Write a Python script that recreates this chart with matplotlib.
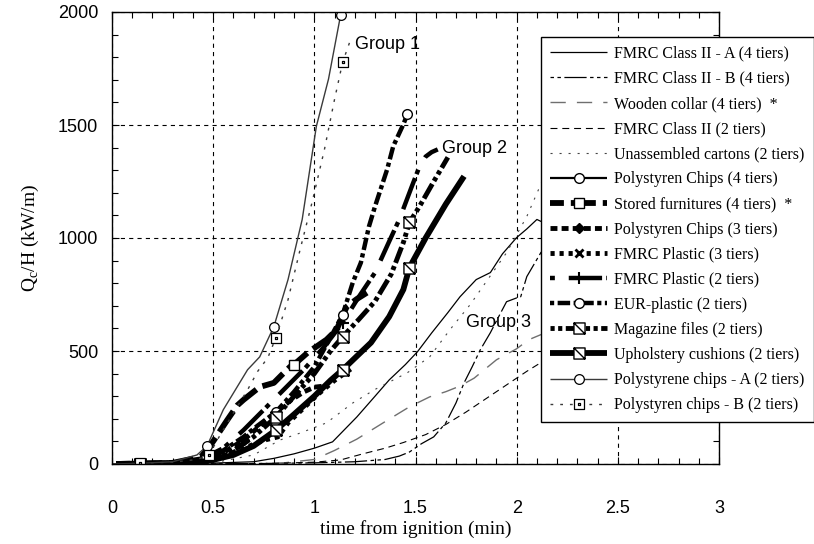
import numpy as np
import matplotlib
matplotlib.use("Agg")
import matplotlib.pyplot as plt
from matplotlib.path import Path
from matplotlib.ticker import MultipleLocator, FuncFormatter

plt.rcParams['lines.scale_dashes'] = False

# ---------------- data (time in min, Qc/H in kW/m) ----------------
fmrc2a_4_t = [0.00, 0.30, 0.50, 0.70, 0.80, 0.90, 1.00, 1.09, 1.21, 1.30, 1.37, 1.45, 1.51, 1.58, 1.66, 1.72, 1.80, 1.87, 1.93, 2.00, 2.05, 2.10, 2.14]
fmrc2a_4_q = [0, 2, 4, 10, 25, 45, 70, 98, 208, 300, 372, 440, 497, 580, 670, 740, 816, 847, 930, 1002, 1040, 1082, 1065]

fmrc2b_4_t = [0.30, 0.70, 1.00, 1.20, 1.35, 1.42, 1.47, 1.53, 1.59, 1.65, 1.70, 1.74, 1.78, 1.82, 1.87, 1.91, 1.95, 2.00, 2.02, 2.05, 2.12, 2.18]
fmrc2b_4_q = [0, 2, 5, 10, 20, 35, 53, 90, 120, 182, 270, 359, 430, 505, 581, 650, 718, 735, 740, 829, 936, 1000]

wood_4_t = [0.80, 1.00, 1.10, 1.21, 1.34, 1.47, 1.57, 1.65, 1.72, 1.79, 1.90, 2.00, 2.06, 2.14]
wood_4_q = [0, 20, 60, 110, 182, 253, 297, 320, 345, 380, 461, 510, 550, 580]

fmrc2_2_t = [0.50, 0.80, 1.00, 1.13, 1.24, 1.35, 1.44, 1.55, 1.65, 1.75, 1.85, 1.95, 2.05, 2.14]
fmrc2_2_q = [0, 3, 8, 18, 45, 70, 95, 130, 175, 230, 290, 350, 410, 460]

carton_2_t = [0.50, 0.70, 0.83, 0.93, 1.06, 1.19, 1.30, 1.46, 1.57, 1.67, 1.77, 1.86, 1.95, 2.05, 2.14]
carton_2_q = [5, 40, 106, 137, 182, 270, 330, 404, 474, 594, 705, 820, 935, 1095, 1280]

pschips_4_t = [0.02, 0.14, 0.30, 0.47]
pschips_4_q = [0, 2, 6, 15]

stored_4_t = [0.02, 0.14, 0.30, 0.44, 0.50, 0.57, 0.62, 0.65, 0.73, 0.80, 0.84, 0.88, 0.90, 0.97, 1.06, 1.11, 1.16, 1.21, 1.26]
stored_4_q = [0, 2, 5, 31, 100, 195, 260, 284, 341, 359, 395, 430, 440, 495, 550, 594, 696, 730, 758]

pschips_3_t = [0.02, 0.14, 0.30, 0.45, 0.55, 0.65, 0.72, 0.80, 0.88, 0.95, 1.00, 1.05]
pschips_3_q = [0, 2, 4, 12, 50, 106, 160, 220, 280, 320, 340, 345]

fmrcpl_3_t = [0.02, 0.14, 0.30, 0.47, 0.58, 0.68, 0.75, 0.82, 0.87, 0.95, 1.02, 1.10, 1.18]
fmrcpl_3_q = [0, 2, 4, 15, 45, 80, 105, 120, 182, 250, 310, 370, 420]

fmrcpl_2_t = [0.02, 0.14, 0.30, 0.45, 0.55, 0.65, 0.75, 0.85, 0.95, 1.05, 1.14, 1.22, 1.30, 1.37, 1.42, 1.48, 1.52, 1.55, 1.58, 1.61]
fmrcpl_2_q = [0, 2, 5, 25, 70, 150, 240, 330, 420, 520, 625, 740, 847, 985, 1082, 1224, 1317, 1360, 1380, 1392]

eur_2_t = [0.02, 0.14, 0.30, 0.47, 0.55, 0.65, 0.72, 0.81, 0.90, 1.00, 1.08, 1.14, 1.19, 1.23, 1.27, 1.30, 1.36, 1.39, 1.44, 1.46]
eur_2_q = [0, 2, 5, 20, 60, 120, 170, 230, 320, 430, 560, 661, 803, 891, 1051, 1140, 1304, 1406, 1503, 1548]

magazine_2_t = [0.02, 0.14, 0.30, 0.47, 0.60, 0.70, 0.81, 0.90, 1.00, 1.08, 1.14, 1.22, 1.30, 1.38, 1.44, 1.47, 1.52, 1.59, 1.66]
magazine_2_q = [0, 2, 5, 20, 60, 120, 208, 300, 400, 500, 563, 640, 720, 840, 980, 1069, 1140, 1250, 1357]

uphol_2_t = [0.02, 0.14, 0.30, 0.47, 0.60, 0.70, 0.81, 0.90, 1.00, 1.08, 1.14, 1.28, 1.37, 1.44, 1.47, 1.55, 1.65, 1.74]
uphol_2_q = [0, 2, 4, 12, 40, 80, 150, 220, 300, 370, 417, 537, 652, 772, 869, 1000, 1150, 1273]

pschipsA_2_t = [0.00, 0.14, 0.30, 0.42, 0.47, 0.55, 0.67, 0.73, 0.80, 0.87, 0.94, 1.01, 1.07, 1.13]
pschipsA_2_q = [0, 3, 10, 40, 80, 240, 417, 474, 608, 816, 1082, 1494, 1703, 1987]

pschipsB_2_t = [0.00, 0.14, 0.30, 0.42, 0.48, 0.52, 0.60, 0.67, 0.72, 0.77, 0.81, 0.87, 0.93, 0.99, 1.05, 1.10, 1.14, 1.18]
pschipsB_2_q = [0, 3, 8, 20, 40, 106, 226, 328, 410, 470, 559, 727, 950, 1162, 1392, 1614, 1778, 1880]

labels = ["FMRC Class II - A (4 tiers)", "FMRC Class II - B (4 tiers)", "Wooden collar (4 tiers)  *",
          "FMRC Class II (2 tiers)", "Unassembled cartons (2 tiers)", "Polystyren Chips (4 tiers)",
          "Stored furnitures (4 tiers)  *", "Polystyren Chips (3 tiers)", "FMRC Plastic (3 tiers)",
          "FMRC Plastic (2 tiers)", "EUR-plastic (2 tiers)", "Magazine files (2 tiers)",
          "Upholstery cushions (2 tiers)", "Polystyrene chips - A (2 tiers)", "Polystyren chips - B (2 tiers)"]

group_labels = ["Group 1", "Group 2", "Group 3"]
group_pos = [(1.20, 1858), (1.63, 1395), (1.75, 625)]

# ---------------- custom markers ----------------
sq_slash = Path([(-1, -1), (1, -1), (1, 1), (-1, 1), (-1, -1), (-1, 1), (1, -1)],
                [Path.MOVETO, Path.LINETO, Path.LINETO, Path.LINETO, Path.CLOSEPOLY, Path.MOVETO, Path.LINETO])
sq_dot = Path([(-1, -1), (1, -1), (1, 1), (-1, 1), (-1, -1),
               (-0.15, -0.15), (0.15, -0.15), (0.15, 0.15), (-0.15, 0.15), (-0.15, -0.15)],
              [Path.MOVETO, Path.LINETO, Path.LINETO, Path.LINETO, Path.CLOSEPOLY,
               Path.MOVETO, Path.LINETO, Path.LINETO, Path.LINETO, Path.CLOSEPOLY])


def marks(t, times):
    t = np.asarray(t)
    return [int(np.argmin(np.abs(t - m))) for m in times]


series = [
    (fmrc2a_4_t, fmrc2a_4_q, dict(color='black', lw=0.9, ls='-'), None, []),
    (fmrc2b_4_t, fmrc2b_4_q, dict(color='black', lw=0.9, ls=(0, (2.5, 2.5, 2.5, 2.5, 16, 2.5))), None, []),
    (wood_4_t, wood_4_q, dict(color='#6f6f6f', lw=1.0, ls=(0, (11, 8))), None, []),
    (fmrc2_2_t, fmrc2_2_q, dict(color='black', lw=0.8, ls=(0, (5, 3.5))), None, []),
    (carton_2_t, carton_2_q, dict(color='#444444', lw=0.8, ls=(0, (1.5, 5))), None, []),
    (pschips_4_t, pschips_4_q, dict(color='black', lw=1.6, ls='-'), dict(marker='o', ms=7, mfc='white', mec='black', mew=1), [0.47]),
    (stored_4_t, stored_4_q, dict(color='black', lw=4.2, ls=(8, (18, 5))), dict(marker='s', ms=7.5, mfc='white', mec='black', mew=1), [0.14, 0.90]),
    (pschips_3_t, pschips_3_q, dict(color='black', lw=3.5, ls=(0, (5, 3))), dict(marker='D', ms=5.5, mfc='black', mec='black', mew=1), [0.65]),
    (fmrcpl_3_t, fmrcpl_3_q, dict(color='black', lw=3.5, ls=(0, (3, 3.5))), dict(marker='x', ms=6, mfc='black', mec='black', mew=2), [0.47]),
    (fmrcpl_2_t, fmrcpl_2_q, dict(color='black', lw=3.2, ls=(0, (3.5, 10, 24, 3))), dict(marker='+', ms=9, mec='black', mew=1.5), [1.14]),
    (eur_2_t, eur_2_q, dict(color='black', lw=3.2, ls=(0, (3, 2.5, 9, 2.5))), dict(marker='o', ms=7, mfc='white', mec='black', mew=1), [0.14, 0.47, 0.81, 1.14, 1.46]),
    (magazine_2_t, magazine_2_q, dict(color='black', lw=3.5, ls=(0, (3, 2.5, 3, 2.5, 12, 2.5))), dict(marker=sq_slash, ms=8, mfc='white', mec='black', mew=1), [0.14, 0.47, 0.81, 1.14, 1.47]),
    (uphol_2_t, uphol_2_q, dict(color='black', lw=4.2, ls='-'), dict(marker=sq_slash, ms=8, mfc='white', mec='black', mew=1), [0.14, 0.81, 1.14, 1.47]),
    (pschipsA_2_t, pschipsA_2_q, dict(color='#3a3a3a', lw=1.0, ls='-'), dict(marker='o', ms=7, mfc='white', mec='black', mew=0.9), [0.47, 0.80, 1.13]),
    (pschipsB_2_t, pschipsB_2_q, dict(color='#3a3a3a', lw=1.0, ls=(0, (2, 5))), dict(marker=sq_dot, ms=7, mfc='white', mec='black', mew=0.9), [0.14, 0.48, 0.81, 1.14]),
]

fig = plt.figure(figsize=(8.14, 5.44), dpi=100)
ax = fig.add_axes([112 / 814, 1 - 464 / 544, (719 - 112) / 814, (464 - 12) / 544])

for (t, q, st, mk, mt), lab in zip(series, labels):
    kw = dict(st)
    if mk is not None:
        kw.update(mk)
        kw['markevery'] = marks(t, mt)
    ax.plot(t, q, label=lab, solid_capstyle='butt', dash_capstyle='butt', **kw)

ax.set_xlim(0, 3)
ax.set_ylim(0, 2000)
ax.xaxis.set_major_locator(MultipleLocator(0.5))
ax.xaxis.set_minor_locator(MultipleLocator(0.1))
ax.yaxis.set_major_locator(MultipleLocator(500))
ax.yaxis.set_minor_locator(MultipleLocator(100))
ax.xaxis.set_major_formatter(FuncFormatter(lambda v, p: f"{v:g}"))
ax.yaxis.set_major_formatter(FuncFormatter(lambda v, p: f"{v:g}"))
ax.tick_params(which='both', direction='in', top=True, right=True, color='black')
ax.tick_params(which='major', length=5, width=0.8)
ax.tick_params(which='minor', length=4, width=0.8)
ax.tick_params(axis='x', which='major', pad=26, labelsize=13, labelfontfamily='Liberation Sans')
ax.tick_params(axis='y', which='major', pad=10, labelsize=13, labelfontfamily='Liberation Sans')
for sp in ax.spines.values():
    sp.set_linewidth(1.0)
ax.grid(True, which='major', color='black', lw=0.8, ls=(0, (3, 3)))

ax.set_xlabel('time from ignition (min)', fontfamily='Liberation Serif', fontsize=14, labelpad=2)
ax.set_ylabel(r'Q$_{\mathregular{c}}$/H (kW/m)', fontfamily='Liberation Serif', fontsize=14, labelpad=12)

for g, (gx, gy) in zip(group_labels, group_pos):
    ax.text(gx, gy, g, fontfamily='Liberation Sans', fontsize=13, ha='left', va='center')

leg = ax.legend(loc='upper left', bbox_to_anchor=(541 / 814, 1 - 37 / 544), bbox_transform=fig.transFigure,
                prop={'family': 'Liberation Serif', 'size': 11.5}, frameon=True, fancybox=False, shadow=False,
                framealpha=1, edgecolor='black', borderaxespad=0, borderpad=0.55, handlelength=3.6,
                handletextpad=0.45, labelspacing=0.57, numpoints=1)
leg.get_frame().set_linewidth(1.0)

fig.savefig('out.png', dpi=100)
